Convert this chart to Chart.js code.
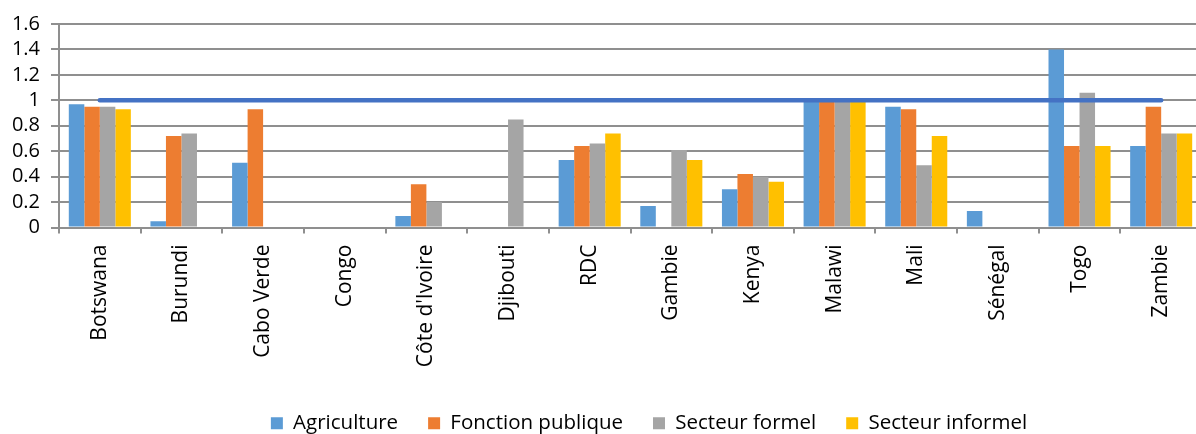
<!DOCTYPE html>
<html>
<head>
<meta charset="utf-8">
<script src="https://cdn.jsdelivr.net/npm/chart.js@4.4.1/dist/chart.umd.min.js"></script>
<style>
  html, body { margin: 0; padding: 0; background: #fff; overflow: hidden; }
  #wrap { position: relative; width: 1202px; height: 434px; }
</style>
</head>
<body>
<div id="wrap"><canvas id="c"></canvas></div>
<script>
const categories = ["Botswana", "Burundi", "Cabo Verde", "Congo", "Côte d'Ivoire", "Djibouti", "RDC", "Gambie", "Kenya", "Malawi", "Mali", "Sénégal", "Togo", "Zambie"];
const agriculture      = [0.97, 0.05, 0.51, null, 0.09, null, 0.53, 0.17, 0.30, 1.00, 0.95, 0.13, 1.40, 0.64];
const fonctionPublique = [0.95, 0.72, 0.93, null, 0.34, null, 0.64, null, 0.42, 1.00, 0.93, null, 0.64, 0.95];
const secteurFormel    = [0.95, 0.74, null, null, 0.20, 0.85, 0.66, 0.61, 0.40, 1.00, 0.49, null, 1.06, 0.74];
const secteurInformel  = [0.93, null, null, null, null, null, 0.74, 0.53, 0.36, 1.00, 0.72, null, 0.64, 0.74];
const reference        = [1, 1, 1, 1, 1, 1, 1, 1, 1, 1, 1, 1, 1, 1];
const seriesNames = ["Agriculture", "Fonction publique", "Secteur formel", "Secteur informel"];
const yTicks = { min: 0, max: 1.6, step: 0.2 };

const FONT = "'Open Sans', sans-serif";
const GRID = '#8f8f8f';

const shiftLegend = {
  id: 'shiftLegend',
  afterLayout(chart) {
    const lg = chart.legend;
    if (!lg) return;
    lg.left += 48; lg.right += 48;
    lg.top += 9.5; lg.bottom += 9.5;
  }
};

new Chart(document.getElementById('c'), {
  data: {
    labels: categories,
    datasets: [
      { type: 'line', label: 'ref', data: reference, borderColor: '#4472C4', borderWidth: 4.5,
        pointRadius: 0, borderCapStyle: 'round', order: 0, fill: false },
      { type: 'bar', label: seriesNames[0], data: agriculture, backgroundColor: '#5B9BD5', order: 1 },
      { type: 'bar', label: seriesNames[1], data: fonctionPublique, backgroundColor: '#ED7D31', order: 1 },
      { type: 'bar', label: seriesNames[2], data: secteurFormel, backgroundColor: '#A5A5A5', order: 1 },
      { type: 'bar', label: seriesNames[3], data: secteurInformel, backgroundColor: '#FFC000', order: 1 }
    ]
  },
  options: {
    responsive: true,
    maintainAspectRatio: false,
    animation: false,
    datasets: { bar: { categoryPercentage: 0.76, barPercentage: 1.0 } },
    layout: { padding: { top: 24, left: 0, right: 0, bottom: 0 } },
    plugins: {
      tooltip: { enabled: false },
      legend: {
        position: 'bottom',
        labels: {
          filter: (item) => item.text !== 'ref',
          font: { family: FONT, size: 20.5 },
          color: '#000',
          boxWidth: 12, boxHeight: 12,
          padding: 30
        }
      }
    },
    scales: {
      x: {
        offset: true,
        grid: { display: true, drawOnChartArea: false, drawTicks: true, tickLength: 6, color: GRID, lineWidth: 2, offset: true },
        border: { display: true, color: GRID, width: 2 },
        ticks: { font: { family: FONT, size: 21 }, color: '#000', maxRotation: 90, minRotation: 90, padding: 11, autoSkip: false },
        afterFit: (s) => { s.height = 146; }
      },
      y: {
        min: yTicks.min, max: yTicks.max,
        grid: { color: GRID, lineWidth: 2, tickLength: 8, drawTicks: true },
        border: { display: true, color: GRID, width: 2 },
        ticks: { stepSize: yTicks.step, autoSkip: false, font: { family: FONT, size: 20 }, color: '#000', padding: 11,
                 callback: (v) => String(Math.round(v * 10) / 10) },
        afterFit: (s) => { s.width = 59; }
      }
    }
  },
  plugins: [shiftLegend]
});
</script>
</body>
</html>
